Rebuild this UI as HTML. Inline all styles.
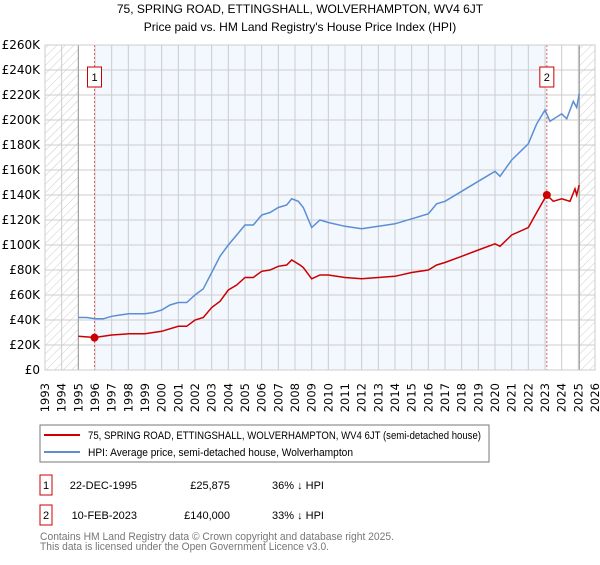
<!DOCTYPE html>
<html><head><meta charset="utf-8"><style>
body{margin:0;background:#fff;font-family:"Liberation Sans",sans-serif;}
svg text{font-family:"Liberation Sans",sans-serif;}
svg text.tick{font-family:"DejaVu Sans","Liberation Sans",sans-serif;}
</style></head><body>
<svg id="chart" width="600" height="560" viewBox="0 0 600 560">
<defs>
<pattern id="hatch" width="6" height="6" patternUnits="userSpaceOnUse" patternTransform="rotate(45)">
<line x1="0" y1="0" x2="0" y2="6" stroke="#ccc" stroke-width="1"/>
</pattern>
</defs>
<text x="300" y="13" text-anchor="middle" font-size="12">75, SPRING ROAD, ETTINGSHALL, WOLVERHAMPTON, WV4 6JT</text>
<text x="300" y="31" text-anchor="middle" font-size="12">Price paid vs. HM Land Registry's House Price Index (HPI)</text>
<g id="plot"></g>
<g id="legend">
<rect x="40" y="425" width="449" height="37" fill="#fff" stroke="#777"/>
<line x1="44" y1="435" x2="80" y2="435" stroke="#cc0000" stroke-width="2"/>
<text x="88" y="439" font-size="11" textLength="393" lengthAdjust="spacingAndGlyphs">75, SPRING ROAD, ETTINGSHALL, WOLVERHAMPTON, WV4 6JT (semi-detached house)</text>
<line x1="44" y1="452" x2="80" y2="452" stroke="#5b8fd4" stroke-width="2"/>
<text x="88" y="456" font-size="11" textLength="265" lengthAdjust="spacingAndGlyphs">HPI: Average price, semi-detached house, Wolverhampton</text>
</g>
<g>
<rect x="40" y="475" width="12" height="20" fill="#fff" stroke="#c00"/>
<text x="46" y="489" text-anchor="middle" font-size="11">1</text>
<text x="137" y="489" text-anchor="end" font-size="11">22-DEC-1995</text>
<text x="230" y="489" text-anchor="end" font-size="11">£25,875</text>
<text x="272" y="489" font-size="11">36% ↓ HPI</text>
<rect x="40" y="505" width="12" height="20" fill="#fff" stroke="#c00"/>
<text x="46" y="519" text-anchor="middle" font-size="11">2</text>
<text x="137" y="519" text-anchor="end" font-size="11">10-FEB-2023</text>
<text x="230" y="519" text-anchor="end" font-size="11">£140,000</text>
<text x="272" y="519" font-size="11">33% ↓ HPI</text>
</g>
<text x="40" y="540" font-size="11" fill="#777" textLength="354" lengthAdjust="spacingAndGlyphs">Contains HM Land Registry data © Crown copyright and database right 2025.</text>
<text x="40" y="550" font-size="11" fill="#777" textLength="289" lengthAdjust="spacingAndGlyphs">This data is licensed under the Open Government Licence v3.0.</text>
</svg>
<script>
const years=[1993,1994,1995,1996,1997,1998,1999,2000,2001,2002,2003,2004,2005,2006,2007,2008,2009,2010,2011,2012,2013,2014,2015,2016,2017,2018,2019,2020,2021,2022,2023,2024,2025,2026];
const yTicks=[0,20,40,60,80,100,120,140,160,180,200,220,240,260];
const hpiX=[1995,1995.5,1996,1996.5,1997,1997.5,1998,1999,1999.5,2000,2000.5,2001,2001.5,2002,2002.5,2003,2003.5,2004,2004.5,2005,2005.5,2006,2006.5,2007,2007.5,2007.8,2008.2,2008.5,2009,2009.5,2010,2011,2012,2013,2014,2015,2016,2016.5,2017,2018,2019,2020,2020.3,2021,2022,2022.5,2023,2023.3,2024,2024.3,2024.7,2024.9,2025.05];
const hpiY=[42,42,41,41,43,44,45,45,46,48,52,54,54,60,65,78,91,100,108,116,116,124,126,130,132,137,135,130,114,120,118,115,113,115,117,121,125,133,135,143,151,159,155,168,181,197,208,199,205,201,215,210,221];
const redX=[1995,1995.97,1996.5,1997,1998,1999,2000,2001,2001.5,2002,2002.5,2003,2003.5,2004,2004.5,2005,2005.5,2006,2006.5,2007,2007.5,2007.8,2008.3,2008.5,2009,2009.5,2010,2011,2012,2013,2014,2015,2016,2016.5,2017,2018,2019,2020,2020.3,2021,2022,2022.5,2023.1,2023.5,2024,2024.5,2024.8,2024.9,2025.05];
const redY=[27,26,27,28,29,29,31,35,35,40,42,50,55,64,68,74,74,79,80,83,84,88,84,82,73,76,76,74,73,74,75,78,80,84,86,91,96,101,99,108,114,126,140,135,137,135,145,140,148];
const saleX=[1995.97,2023.11];
const saleY=[25.875,140];
const saleLabels=["1","2"];

const L=45,R=595,T=45,B=370;
const xs=y=>L+(y-1993)*(R-L)/33;
const ys=v=>B-v*(B-T)/260;
const NS="http://www.w3.org/2000/svg";
const g=document.getElementById('plot');
function mk(tag,attrs,parent){const e=document.createElementNS(NS,tag);for(const k in attrs)e.setAttribute(k,attrs[k]);(parent||g).appendChild(e);return e;}

let e;
e=mk('rect',{x:L,y:T,width:R-L,height:B-T,fill:'#fff'});


e=mk('rect',{x:xs(saleX[0]),y:T,width:xs(saleX[1])-xs(saleX[0]),height:B-T,fill:'#f3f7fe'});


e=mk('rect',{x:L,y:T,width:xs(1995)-L,height:B-T,fill:'url(#hatch)'});


e=mk('rect',{x:xs(2025.06),y:T,width:R-xs(2025.06),height:B-T,fill:'url(#hatch)'});



years.forEach(y=>{
 e=mk('line',{x1:xs(y),x2:xs(y),y1:T,y2:B,stroke:'#cccccc','stroke-width':1});
 
 
 e=mk('text',{x:0,y:0,'font-size':11.5,'class':'tick','text-anchor':'end',transform:`translate(${xs(y)+4},${B+13}) rotate(-90)`});
 e.textContent=y;
 
 
});
yTicks.forEach(v=>{
 e=mk('line',{x1:L,x2:R,y1:ys(v),y2:ys(v),stroke:'#cccccc','stroke-width':1});
 
 
 e=mk('text',{x:L-5,y:ys(v)+4,'font-size':12,'class':'tick','text-anchor':'end'});
 e.textContent=v===0?'£0':'£'+v+'K';
 
 
});
e=mk('line',{x1:xs(1995),x2:xs(1995),y1:T,y2:B,stroke:'#999','stroke-width':1});


e=mk('line',{x1:xs(2025.06),x2:xs(2025.06),y1:T,y2:B,stroke:'#999','stroke-width':1});



saleX.forEach((sx,i)=>{
 e=mk('line',{x1:xs(sx),x2:xs(sx),y1:T,y2:B,stroke:'#e06060','stroke-width':1,'stroke-dasharray':'2,2'});
 
 
 e=mk('rect',{x:xs(sx)-7,y:67,width:14,height:20,fill:'#fff',stroke:'#c00'});
 
 
 e=mk('text',{x:xs(sx),y:81,'font-size':11,'text-anchor':'middle'});
 e.textContent=saleLabels[i];
 
 
});

function path(X,Y){return X.map((x,i)=>(i?'L':'M')+xs(x).toFixed(1)+','+ys(Y[i]).toFixed(1)).join('');}
e=mk('path',{d:path(hpiX,hpiY),fill:'none',stroke:'#5b8fd4','stroke-width':1.5});


e=mk('path',{d:path(redX,redY),fill:'none',stroke:'#cc0000','stroke-width':1.5});


saleX.forEach((sx,i)=>{
 e=mk('circle',{cx:xs(sx),cy:ys(saleY[i]),r:4,fill:'#cc0000'});
 
 
});
e=mk('rect',{x:L,y:T,width:R-L,height:B-T,fill:'none',stroke:'#ccc'});


</script>
</body></html>
